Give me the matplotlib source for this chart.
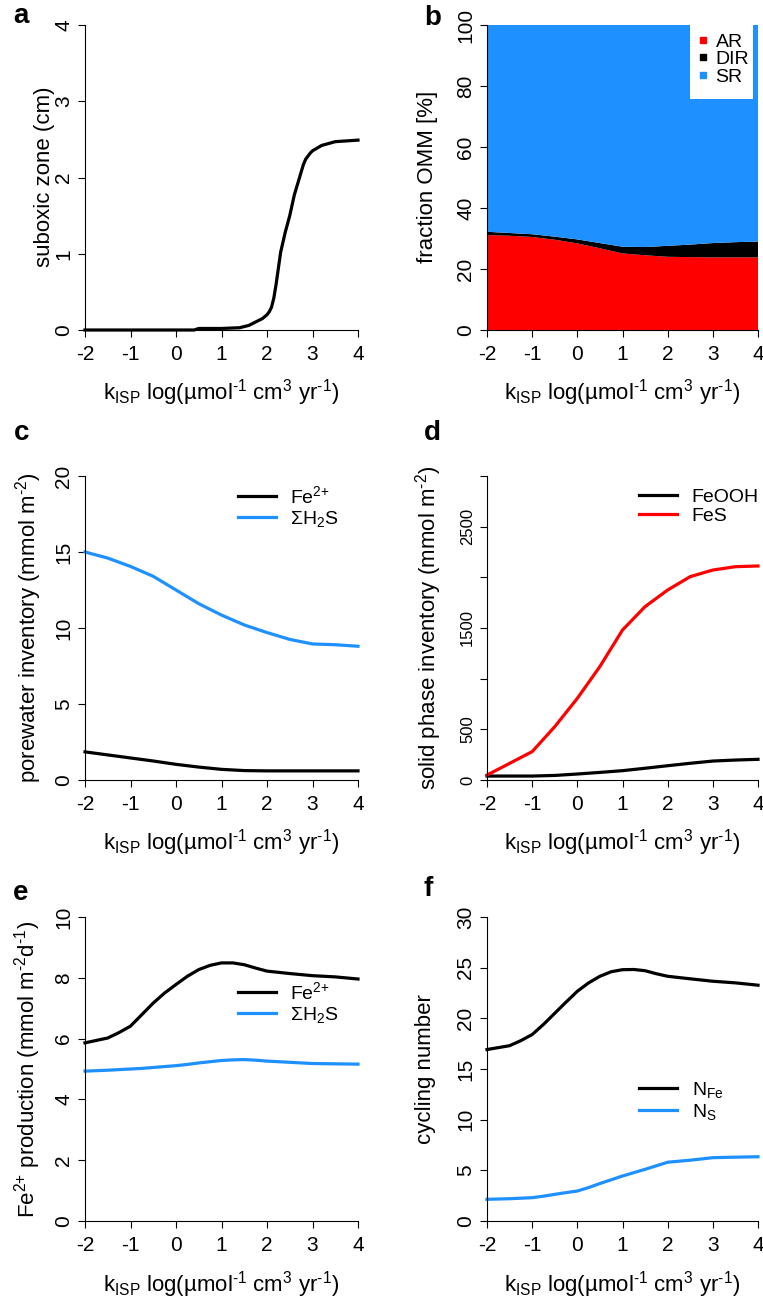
import matplotlib
matplotlib.use('Agg')
import matplotlib.pyplot as plt
from matplotlib.lines import Line2D
from matplotlib.patches import Rectangle

plt.rcParams['font.family'] = ['Liberation Sans', 'DejaVu Sans']
plt.rcParams['mathtext.fontset'] = 'custom'
plt.rcParams['mathtext.rm'] = 'Liberation Sans'
plt.rcParams['mathtext.it'] = 'Liberation Sans'
plt.rcParams['mathtext.bf'] = 'Liberation Sans:bold'
plt.rcParams['mathtext.default'] = 'regular'

RED = '#ff0000'
BLUE = '#1e90ff'

# panel a: suboxic zone thickness
x_a = [-2, -1, 0, 0.4, 0.5, 1, 1.4, 1.6, 1.8, 1.9, 2.0, 2.05, 2.1, 2.15, 2.2, 2.3,
       2.4, 2.5, 2.6, 2.7, 2.8, 2.85, 2.9, 2.95, 3.0, 3.2, 3.5, 4]
suboxic = [0, 0, 0, 0, 0.02, 0.02, 0.03, 0.06, 0.12, 0.15, 0.2, 0.24, 0.3, 0.42, 0.6,
           1.02, 1.28, 1.5, 1.77, 1.97, 2.17, 2.24, 2.28, 2.32, 2.35, 2.42, 2.47, 2.49]

# common x grid for panels b-d
x_k = [-2, -1.5, -1, -0.5, 0, 0.5, 1, 1.5, 2, 2.5, 3, 3.5, 4]

# panel b: fraction of organic matter mineralization (%)
frac_AR = [31.1, 30.9, 30.5, 29.6, 28.4, 26.8, 25.1, 24.5, 24.0, 23.9, 23.8, 23.8, 23.8]
frac_DIR = [1.1, 0.9, 0.9, 1.0, 1.3, 1.7, 2.2, 2.7, 3.6, 4.1, 4.7, 5.0, 5.2]
frac_SR = [67.8, 68.2, 68.6, 69.4, 70.3, 71.5, 72.7, 72.8, 72.4, 72.0, 71.5, 71.2, 71.0]

# panel c: porewater inventory
pw_Fe = [1.85, 1.65, 1.45, 1.25, 1.03, 0.85, 0.7, 0.62, 0.6, 0.6, 0.6, 0.6, 0.6]
pw_H2S = [15.0, 14.6, 14.05, 13.4, 12.5, 11.6, 10.85, 10.2, 9.7, 9.25, 8.95, 8.9, 8.8]

# panel d: solid phase inventory
sp_FeOOH = [39, 39, 39, 45, 59, 75, 92, 116, 141, 165, 187, 197, 204]
sp_FeS = [49, 164, 280, 526, 806, 1120, 1480, 1711, 1875, 2007, 2072, 2105, 2112]

# finer x grid for panels e-f
x_ef = [-2, -1.5, -1.25, -1, -0.75, -0.5, -0.25, 0, 0.25, 0.5, 0.75, 1, 1.25, 1.5,
        1.75, 2, 2.5, 3, 3.5, 4]

# panel e: production
prod_Fe = [5.86, 6.02, 6.2, 6.41, 6.79, 7.17, 7.5, 7.78, 8.05, 8.27, 8.41, 8.49, 8.49,
           8.43, 8.32, 8.22, 8.14, 8.07, 8.03, 7.96]
prod_H2S = [4.93, 4.96, 4.98, 5.0, 5.02, 5.05, 5.08, 5.11, 5.15, 5.2, 5.24, 5.28, 5.3,
            5.31, 5.29, 5.26, 5.22, 5.18, 5.17, 5.16]

# panel f: cycling numbers
cyc_Fe = [16.92, 17.3, 17.8, 18.4, 19.4, 20.5, 21.6, 22.67, 23.5, 24.15, 24.6, 24.8,
          24.82, 24.7, 24.4, 24.15, 23.9, 23.66, 23.5, 23.27]
cyc_S = [2.14, 2.2, 2.25, 2.3, 2.45, 2.63, 2.8, 2.96, 3.3, 3.7, 4.07, 4.44, 4.77, 5.1,
         5.45, 5.8, 6.0, 6.25, 6.3, 6.34]

xticks = [-2, -1, 0, 1, 2, 3, 4]
HY = '\u2010'
xlab = r'k$_{ISP}$ log(µmol$^{' + HY + r'1}$ cm$^{3}$ yr$^{' + HY + r'1}$)'

W, H = 763, 1299
fig = plt.figure(figsize=(W / 100, H / 100), dpi=100)


def px_axes(L, R, T, B):
    return fig.add_axes([L / W, 1 - B / H, (R - L) / W, (B - T) / H])


def style(ax, ylim, yticks, tick_size=15):
    ax.set_xlim(-2, 4)
    ax.set_ylim(*ylim)
    ax.set_xticks(xticks)
    ax.set_xticklabels([str(t) for t in xticks])
    ax.set_yticks(yticks)
    for s in ['top', 'right']:
        ax.spines[s].set_visible(False)
    for s in ['left', 'bottom']:
        ax.spines[s].set_linewidth(0.8)
    ax.tick_params(axis='both', direction='out', length=5, width=0.8)
    ax.tick_params(axis='x', labelsize=15, pad=5.5)
    ax.tick_params(axis='y', labelsize=tick_size, pad=3.5)
    for lab in ax.get_yticklabels():
        lab.set_rotation(90)
        lab.set_va('center')


def legend_at(ax, handles, labels, x_px, y_px):
    ax.legend(handles, labels, loc='upper left',
              bbox_to_anchor=(x_px / W, 1 - y_px / H), bbox_transform=fig.transFigure,
              frameon=False, fontsize=14, handlelength=1.95, handletextpad=0.75,
              labelspacing=0.1, borderpad=0, borderaxespad=0)


LW = 2.3
left = (85, 358)
right = (487, 758)
rows = [(25, 330), (476, 780), (917, 1221)]

# a
ax = px_axes(left[0], left[1], *rows[0])
ax.plot(x_a, suboxic, color='black', lw=LW, clip_on=False)
style(ax, (0, 4), [0, 1, 2, 3, 4])

# b
ax = px_axes(right[0], right[1], *rows[0])
ax.stackplot(x_k, frac_AR, frac_DIR, frac_SR, colors=[RED, 'black', BLUE], lw=0)
style(ax, (0, 100), [0, 20, 40, 60, 80, 100])
ax.add_patch(Rectangle((690 / W, 1 - 99 / H), 63 / W, 74 / H, transform=fig.transFigure,
                       facecolor='white', edgecolor='none', zorder=4))
sq = [Line2D([], [], ls='none', marker='s', ms=5, color=c) for c in [RED, 'black', BLUE]]
ax.legend(sq, ['AR', 'DIR', 'SR'], loc='upper left',
          bbox_to_anchor=(698 / W, 1 - 33 / H), bbox_transform=fig.transFigure,
          frameon=False, fontsize=14, handlelength=0.5, handletextpad=0.4,
          labelspacing=0.0, borderpad=0, borderaxespad=0)

# c
ax = px_axes(left[0], left[1], *rows[1])
l1, = ax.plot(x_k, pw_Fe, color='black', lw=LW, clip_on=False)
l2, = ax.plot(x_k, pw_H2S, color=BLUE, lw=LW, clip_on=False)
style(ax, (0, 20), [0, 5, 10, 15, 20])
legend_at(ax, [l1, l2], ['Fe$^{2{+}}$', 'ΣH$_2$S'], 238, 485)

# d
ax = px_axes(right[0], right[1], *rows[1])
l1, = ax.plot(x_k, sp_FeOOH, color='black', lw=LW, clip_on=False)
l2, = ax.plot(x_k, sp_FeS, color=RED, lw=LW, clip_on=False)
style(ax, (0, 3000), [0, 500, 1000, 1500, 2000, 2500, 3000], tick_size=12)
ax.set_yticklabels(['0', '500', '', '1500', '', '2500', ''])
for lab in ax.get_yticklabels():
    lab.set_rotation(90)
    lab.set_va('center')
legend_at(ax, [l1, l2], ['FeOOH', 'FeS'], 639, 488)

# e
ax = px_axes(left[0], left[1], *rows[2])
l1, = ax.plot(x_ef, prod_Fe, color='black', lw=LW, clip_on=False)
l2, = ax.plot(x_ef, prod_H2S, color=BLUE, lw=LW, clip_on=False)
style(ax, (0, 10), [0, 2, 4, 6, 8, 10])
legend_at(ax, [l1, l2], ['Fe$^{2{+}}$', 'ΣH$_2$S'], 238, 981)

# f
ax = px_axes(right[0], right[1], *rows[2])
l1, = ax.plot(x_ef, cyc_Fe, color='black', lw=LW, clip_on=False)
l2, = ax.plot(x_ef, cyc_S, color=BLUE, lw=LW, clip_on=False)
style(ax, (0, 30), [0, 5, 10, 15, 20, 25, 30])
legend_at(ax, [l1, l2], ['N$_{Fe}$', 'N$_{S}$'], 639, 1080)

# axis labels
ylabels = [
    ('suboxic zone (cm)', 50, 177),
    ('fraction OMM [%]', 433, 177),
    ('porewater inventory (mmol m$^{' + HY + '2}$)', 36, 628),
    ('solid phase inventory (mmol m$^{' + HY + '2}$)', 436, 628),
    ('Fe$^{2{+}}$ production (mmol m$^{' + HY + '2}$d$^{' + HY + '1}$)', 35, 1069),
    ('cycling number', 431, 1069),
]
for txt, xp, yp in ylabels:
    fig.text(xp / W, 1 - yp / H, txt, rotation=90, rotation_mode='anchor',
             ha='center', va='baseline', fontsize=16)

for yb in [400, 850, 1291]:
    for xc in [(left[0] + left[1]) / 2, (right[0] + right[1]) / 2]:
        fig.text(xc / W, 1 - yb / H, xlab, ha='center', va='baseline', fontsize=16)

# panel letters
for letter, xp, yp in [('a', 13, 23), ('b', 424, 25), ('c', 14, 440),
                       ('d', 424, 440), ('e', 13, 900), ('f', 424, 896)]:
    fig.text(xp / W, 1 - yp / H, letter, ha='left', va='baseline',
             fontsize=20, fontweight='bold')

fig.savefig('out.png', dpi=100)
